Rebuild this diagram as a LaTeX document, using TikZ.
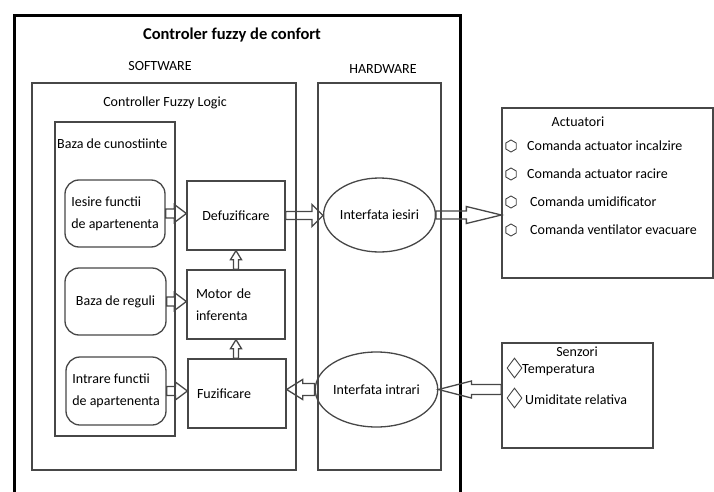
\documentclass[tikz,border=0pt]{standalone}
\usepackage{fontspec}
\setmainfont{Carlito}
\usetikzlibrary{calc,shapes.geometric}
\begin{document}
\begin{tikzpicture}[x=1pt,y=-1pt,
  ln/.style={draw=black!72, line width=1.3pt},
  base/.style={inner sep=0pt, font=\fontsize{14}{22}\selectfont},
  box/.style={base, ln, rectangle},
  rbox/.style={base, ln, rectangle, rounded corners=14pt},
  oval/.style={base, ln, ellipse},
  hollow/.style n args={3}{ln, line join=miter, to path={
    ($(\tikztostart)!#1!90:(\tikztotarget)$) --
    ($($(\tikztotarget)!#3!(\tikztostart)$)!#1!90:(\tikztotarget)$) --
    ($($(\tikztotarget)!#3!(\tikztostart)$)!#2!90:(\tikztotarget)$) --
    (\tikztotarget) --
    ($($(\tikztotarget)!#3!(\tikztostart)$)!#2!-90:(\tikztotarget)$) --
    ($($(\tikztotarget)!#3!(\tikztostart)$)!#1!-90:(\tikztotarget)$) --
    ($(\tikztostart)!#1!-90:(\tikztotarget)$) -- cycle}}]
\useasboundingbox (0,0) rectangle (714,492);

% outer frame
\draw[line width=3pt, line join=miter] (14,500) -- (14,16) -- (460,16) -- (460,500);
\node[base, font=\bfseries\fontsize{16.5}{20}\selectfont] (title) at (232,35) {Controler fuzzy de confort};
\node[base] (swlbl) at (160,66) {SOFTWARE};
\node[base] (hwlbl) at (383,69) {HARDWARE};

% software / hardware
\node[box, minimum width=264, minimum height=387] (soft) at (164,276.5) {};
\node[base] (softlbl) at (165,103) {Controller Fuzzy Logic};
\node[box, minimum width=123, minimum height=387] (hard) at (379.5,276.5) {};

% knowledge base
\node[box, minimum width=120, minimum height=314] (baza) at (115,279) {};
\node[base, anchor=west] (bazalbl) at (57,144) {Baza de cunostiinte};
\node[rbox, minimum width=100, minimum height=67, align=left] (iesire) at (115,213.5) {Iesire functii\\de apartenenta};
\node[rbox, minimum width=101, minimum height=67] (reguli) at (115.5,301.5) {Baza de reguli};
\node[rbox, minimum width=100, minimum height=68, align=left] (intrare) at (116,391) {Intrare functii\\de apartenenta};

% processing
\node[box, minimum width=98, minimum height=69] (defuz) at (236,215.5) {Defuzificare};
\node[box, minimum width=98, minimum height=69, text width=80pt, align=left] (motor) at (236,304.5) {Motor de\\inferenta};
\node[box, minimum width=98, minimum height=69, text width=80pt, align=left] (fuz) at (237,393.5) {Fuzificare};

% interfaces
\node[oval, minimum width=105, minimum height=74] (iesiri) at (379.5,215) {Interfata iesiri};
\node[oval, minimum width=107, minimum height=75] (intrari) at (376.5,389.5) {Interfata intrari};

% actuators
\node[box, minimum width=211, minimum height=170] (act) at (607.5,193) {};
\node[base] (actlbl) at (578,122) {Actuatori};
\foreach \i/\y/\tx/\t in {1/146/527/Comanda actuator incalzire,2/174/527/Comanda actuator racire,3/202/530/Comanda umidificator,4/230/530/Comanda ventilator evacuare}{
  \node[ln, regular polygon, regular polygon sides=6, shape border rotate=30, minimum size=12pt, inner sep=0pt, line width=0.9pt] (hex\i) at (511,\y) {};
  \node[base, anchor=west] (actitem\i) at (\tx,\y) {\t};
}

% sensors
\node[box, minimum width=151, minimum height=105] (senz) at (577.5,395.5) {};
\node[base] (senzlbl) at (577,352) {Senzori};
\node[ln, diamond, minimum width=15pt, minimum height=20pt, inner sep=0pt, line width=0.9pt] (dia1) at (514.5,368) {};
\node[ln, diamond, minimum width=15pt, minimum height=20pt, inner sep=0pt, line width=0.9pt] (dia2) at (514.5,398) {};
\node[base, anchor=west] (temp) at (522,370) {Temperatura};
\node[base, anchor=west] (umid) at (525,400) {Umiditate relativa};

% connectors
\coordinate (t1) at (defuz.west |- iesire.east);
\coordinate (t2) at (motor.west |- reguli.east);
\coordinate (t3) at (fuz.west |- intrare.east);
\coordinate (t4) at (iesiri.west |- defuz.east);
\coordinate (t5) at (act.west |- iesiri.east);
\coordinate (s6) at (senz.west |- intrari.east);
\coordinate (t7) at (fuz.east |- intrari.west);
\coordinate (s8) at (fuz.north -| motor.south);

\draw[hollow={4.5pt}{9pt}{12pt}] (iesire.east) to (t1);
\draw[hollow={4.5pt}{9pt}{12pt}] (reguli.east) to (t2);
\draw[hollow={4.5pt}{9pt}{12pt}] (intrare.east) to (t3);
\draw[hollow={4pt}{11pt}{11pt}] (defuz.east) to (t4);
\draw[hollow={4pt}{8.5pt}{35pt}] (iesiri.east) to (t5);
\draw[hollow={5pt}{8.5pt}{33pt}] (s6) to (intrari.east);
\draw[hollow={6pt}{10pt}{16pt}] (intrari.west) to (t7);
\draw[hollow={2.5pt}{5.5pt}{9pt}] (motor.north) to (defuz.south);
\draw[hollow={2.5pt}{5.5pt}{9pt}] (s8) to (motor.south);
\end{tikzpicture}
\end{document}
